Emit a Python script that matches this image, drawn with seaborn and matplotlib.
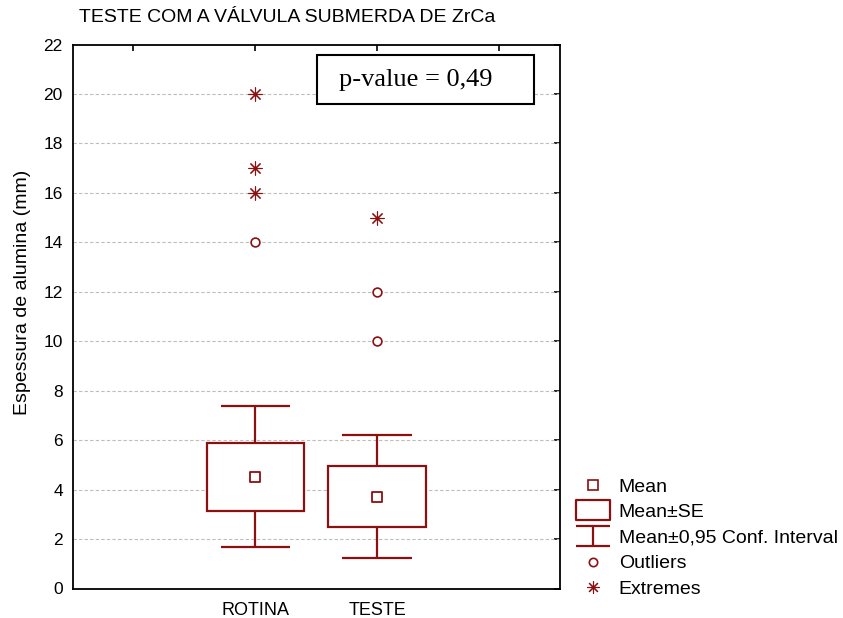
import numpy as np
import pandas as pd
import matplotlib
matplotlib.use("Agg")
import matplotlib.pyplot as plt
from matplotlib.patches import Rectangle
from matplotlib.path import Path
from matplotlib.lines import Line2D
import seaborn as sns

# ---- data -------------------------------------------------------------
groups = ["ROTINA", "TESTE"]
means = [4.52, 3.72]
se = [1.38, 1.22]
ci95 = [2.85, 2.48]
outlier_group = ["ROTINA", "TESTE", "TESTE"]
outlier_values = [14, 12, 10]
extreme_group = ["ROTINA", "ROTINA", "ROTINA", "TESTE"]
extreme_values = [20, 17, 16, 15]
y_ticks = list(range(0, 23, 2))
title = "TESTE COM A VÁLVULA SUBMERDA DE ZrCa"
y_label = "Espessura de alumina (mm)"
p_text = "p-value = 0,49"
legend_labels = ["Mean", "Mean±SE", "Mean±0,95 Conf. Interval", "Outliers", "Extremes"]

# ---- style ------------------------------------------------------------
sns.set_theme(style="white")
plt.rcParams["font.family"] = ["Liberation Sans", "DejaVu Sans"]
plt.rcParams["text.color"] = "black"
RED = "#8b1010"

W, H = 843, 618
fig = plt.figure(figsize=(W / 100, H / 100), dpi=100)
ax_l, ax_r, ax_t, ax_b = 72.5, 560, 44.6, 588.5
ax = fig.add_axes([ax_l / W, 1 - ax_b / H, (ax_r - ax_l) / W, (ax_b - ax_t) / H])

pos = {g: i for i, g in enumerate(groups)}
box_w, cap_w = 0.80, 0.57

# Mean ± 0.95 CI whiskers and Mean ± SE boxes
for g, m, s, c in zip(groups, means, se, ci95):
    x = pos[g]
    ax.vlines(x, m + s, m + c, color=RED, lw=1.6, zorder=3)
    ax.vlines(x, m - c, m - s, color=RED, lw=1.6, zorder=3)
    ax.hlines([m + c, m - c], x - cap_w / 2, x + cap_w / 2, color=RED, lw=1.6, zorder=3)
    ax.add_patch(Rectangle((x - box_w / 2, m - s), box_w, 2 * s, facecolor="white",
                           edgecolor=RED, lw=1.6, zorder=3))

df_mean = pd.DataFrame({"x": [pos[g] for g in groups], "y": means})
df_out = pd.DataFrame({"x": [pos[g] for g in outlier_group], "y": outlier_values})
df_ext = pd.DataFrame({"x": [pos[g] for g in extreme_group], "y": extreme_values})

sns.scatterplot(data=df_mean, x="x", y="y", marker="s", s=45, facecolor="white",
                edgecolor=RED, linewidth=1.3, ax=ax, zorder=4)
sns.scatterplot(data=df_out, x="x", y="y", marker="o", s=40, facecolor="white",
                edgecolor=RED, linewidth=1.2, ax=ax, zorder=4)
ax.plot(df_ext["x"], df_ext["y"], linestyle="none", marker=(8, 2, 0), markersize=10,
        markeredgecolor=RED, markeredgewidth=0.8, zorder=4)

# ---- axes -------------------------------------------------------------
ax.set_xlim(-1.5, 2.5)
ax.set_ylim(0, 22)
ax.set_yticks(y_ticks)
ax.set_xticks([-1, 0, 1, 2])
ax.set_xticklabels(["", "ROTINA", "TESTE", ""])
ax.set_xlabel("")
ax.set_ylabel("")
ax.grid(False)
for yv in y_ticks[1:-1]:
    ax.axhline(yv, color="#bdbdbd", lw=0.8, ls=(0, (3, 2)), zorder=1)
for sp in ax.spines.values():
    sp.set_color("black")
    sp.set_linewidth(1.3)
ax.tick_params(axis="both", direction="in", length=4, width=1.2, color="black",
               top=True, right=True, labelsize=12.5, labelcolor="black")
ax.tick_params(axis="y", pad=7)
ax.tick_params(axis="x", pad=10, labelsize=13)

fig.text(79 / W, 1 - 18 / H, title, ha="left", va="center", fontsize=14, color="black")
fig.text(23 / W, 1 - 292 / H, y_label, rotation=90, ha="center", va="center",
         fontsize=14, color="black")

# p-value box
fig.patches.append(Rectangle((317 / W, 1 - 104 / H), (534 - 317) / W, (104 - 55) / H,
                             transform=fig.transFigure, facecolor="white",
                             edgecolor="black", lw=1.5, zorder=5))
fig.text(339 / W, 1 - 86 / H, p_text, ha="left", va="baseline", fontsize=19,
         family=["Liberation Serif"], color="black", zorder=6)

# ---- legend -----------------------------------------------------------
rect_path = Path([(-1, -0.57), (1, -0.57), (1, 0.57), (-1, 0.57), (-1, -0.57)],
                 [Path.MOVETO, Path.LINETO, Path.LINETO, Path.LINETO, Path.CLOSEPOLY])
ci_path = Path([(-1, 0.55), (1, 0.55), (0, 0.55), (0, -0.55), (-1, -0.55), (1, -0.55)],
               [Path.MOVETO, Path.LINETO, Path.MOVETO, Path.LINETO, Path.MOVETO, Path.LINETO])
handles = [
    Line2D([], [], ls="none", marker="s", markersize=6.5, markerfacecolor="white",
           markeredgecolor=RED, markeredgewidth=1.2),
    Line2D([], [], ls="none", marker=rect_path, markersize=25, markerfacecolor="white",
           markeredgecolor=RED, markeredgewidth=1.6),
    Line2D([], [], ls="none", marker=ci_path, markersize=25, fillstyle="none",
           markeredgecolor=RED, markeredgewidth=1.6),
    Line2D([], [], ls="none", marker="o", markersize=6, markerfacecolor="white",
           markeredgecolor=RED, markeredgewidth=1.2),
    Line2D([], [], ls="none", marker=(8, 2, 0), markersize=9,
           markeredgecolor=RED, markeredgewidth=0.8),
]
leg = fig.legend(handles, legend_labels, loc="upper left",
                 bbox_to_anchor=(574 / W, 1 - 478 / H),
                 frameon=False, fontsize=14, handlelength=2.0, handletextpad=0.3,
                 labelspacing=0.41, borderpad=0, borderaxespad=0)
for t in leg.get_texts():
    t.set_color("black")

fig.savefig("out.png", dpi=100, facecolor="white")
